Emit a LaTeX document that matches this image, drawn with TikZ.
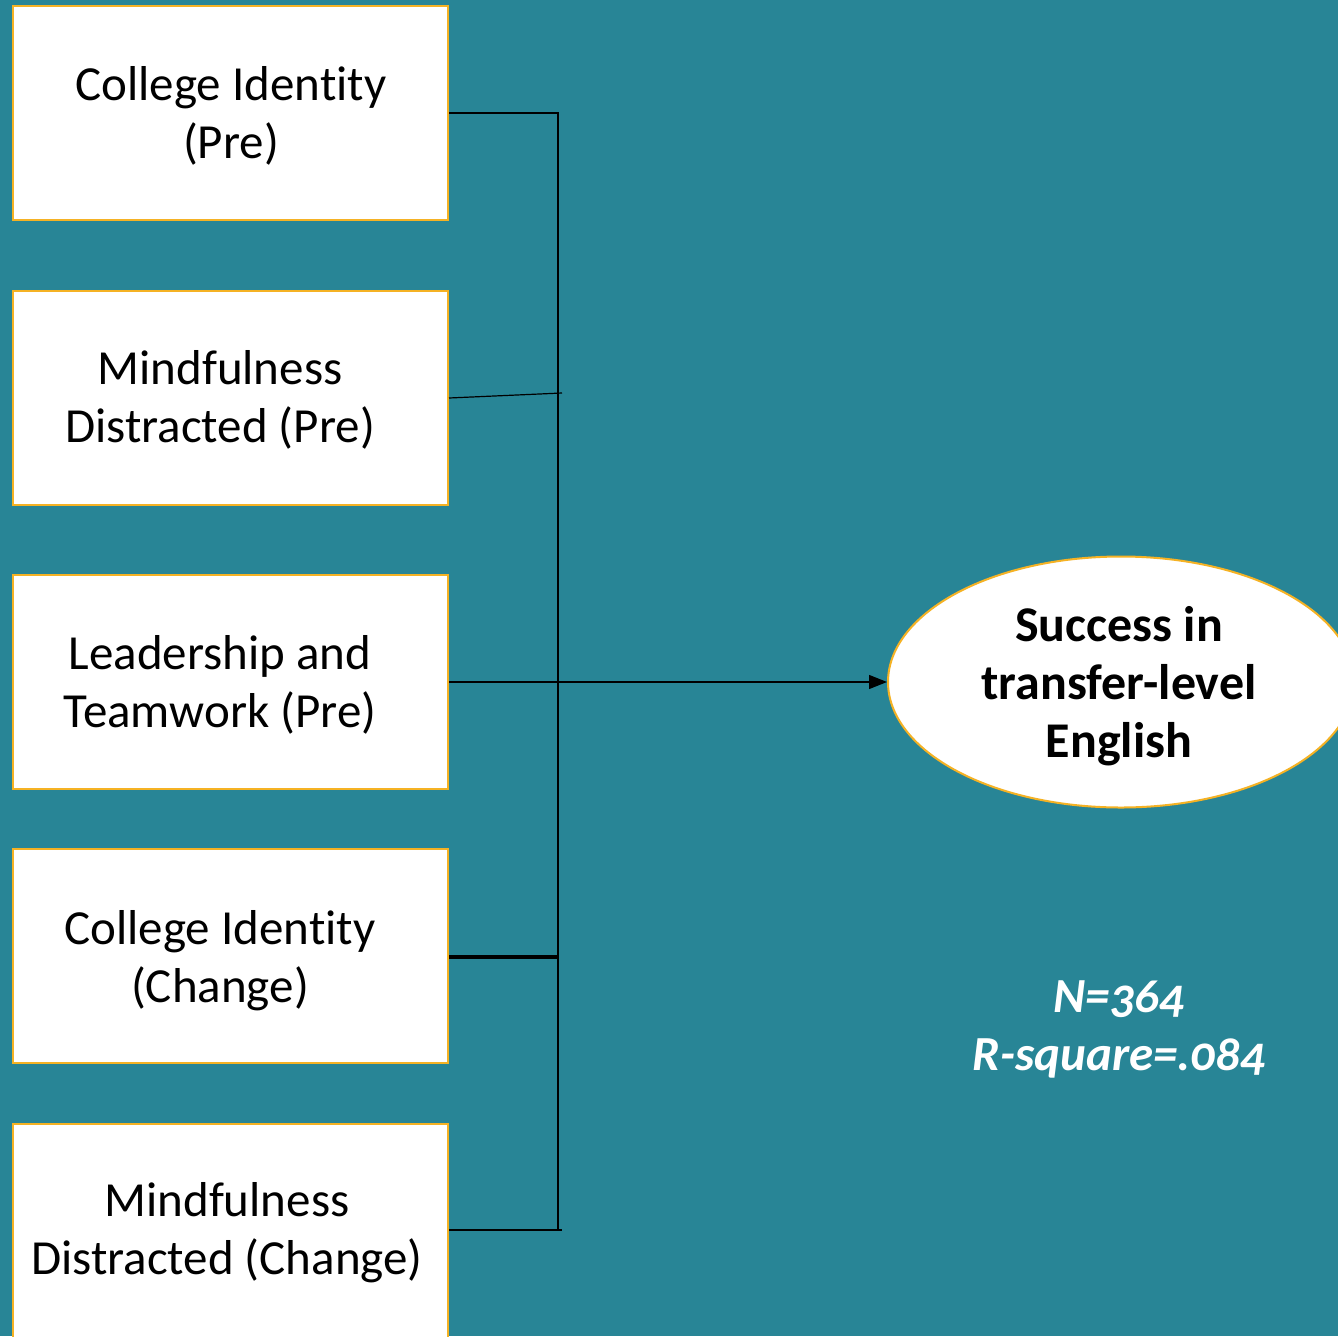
\documentclass[tikz,border=0pt]{standalone}
\usepackage{fontspec}
\setmainfont{Carlito}[Numbers=OldStyle,Ligatures=NoCommon]
\usetikzlibrary{arrows.meta,shapes.geometric}
\definecolor{bgteal}{RGB}{40,133,150}
\definecolor{boxgold}{RGB}{245,178,36}
\begin{document}
\begin{tikzpicture}[x=1pt,y=-1pt,
  predictor/.style={draw=boxgold,line width=2pt,fill=white,minimum width=435pt,minimum height=214pt,inner sep=0pt},
  outcome/.style={ellipse,draw=boxgold,line width=2pt,fill=white,minimum width=466pt,minimum height=251pt,inner sep=0pt},
  label/.style={font=\fontsize{49}{58}\selectfont,align=center,inner sep=0pt},
  link/.style={draw=black,line width=1.2pt}]
\useasboundingbox (0,0) rectangle (1338,1336);
\clip (0,0) rectangle (1338,1336);
\fill[bgteal] (0,0) rectangle (1338,1336);
% predictor boxes
\node[predictor] (b1) at (230.5,113) {};
\node[predictor] (b2) at (230.5,398) {};
\node[predictor] (b3) at (230.5,682) {};
\node[predictor] (b4) at (230.5,956) {};
\node[predictor,anchor=north] (b5) at (230.5,1123) {};
% box labels
\node[label] (t1) at (231,116) {College Identity\\(Pre)};
\node[label] (t2) at (220,400) {Mindfulness\\Distracted (Pre)};
\node[label] (t3) at (220,685) {Leadership and\\Teamwork (Pre)};
\node[label] (t4) at (220,961) {College Identity\\(Change)};
\node[label] (t5) at (227,1233) {Mindfulness\\Distracted (Change)};
% outcome
\node[outcome] (out) at (1121,682) {};
\node[label,font=\fontsize{50}{58}\selectfont\bfseries] (outtxt) at (1119,686) {Success in\\transfer-level\\English};
% statistics
\node[label,font=\fontsize{49}{58}\selectfont\bfseries\itshape,text=white] (stats) at (1119,1029) {N=364\\R-square=.084};
% connectors
\coordinate (vtop) at (558,113);
\coordinate (vbot) at (558,1230);
\coordinate (j2) at (562,393);
\coordinate (j4) at (558,957);
\coordinate (j5) at (562,1230);
\draw[link] (b1.east) -- (vtop) -- (vbot);
\draw[link] (b2.east) -- (j2);
\draw[link,line width=3.5pt] (b4.east |- j4) -- (j4);
\draw[link] (b5.east |- j5) -- (j5);
\draw[link,-{Triangle[length=18pt,width=14pt]}] (b3.east) -- (out.west);
\end{tikzpicture}
\end{document}
